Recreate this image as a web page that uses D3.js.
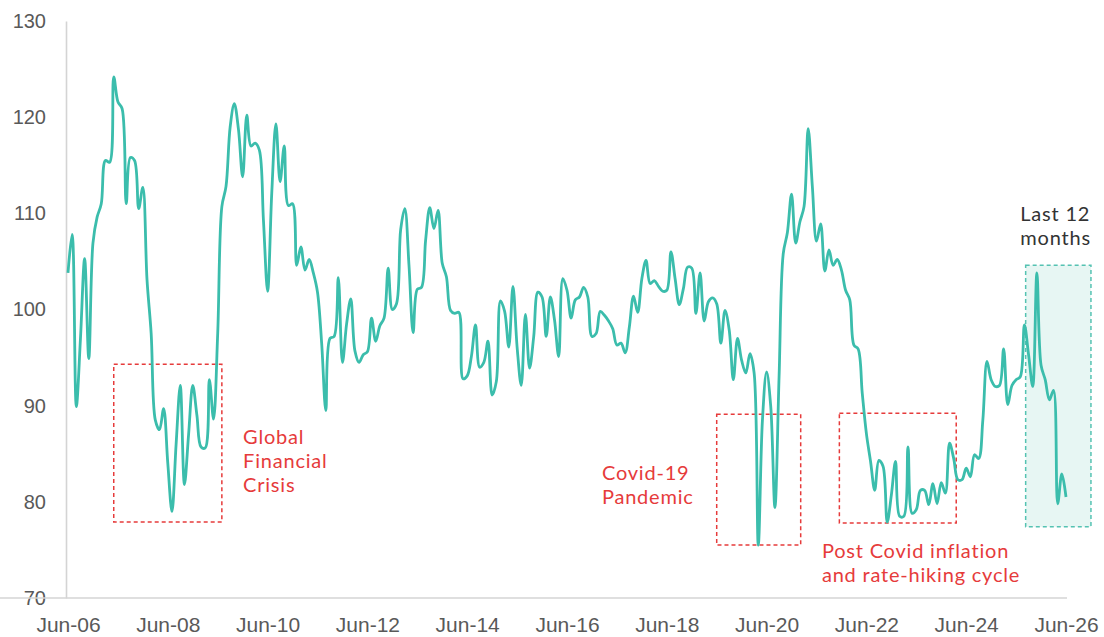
<!DOCTYPE html>
<html>
<head>
<meta charset="utf-8">
<script src="https://cdn.jsdelivr.net/npm/d3@7"></script>
<style>
    body { margin: 0; background: #fff; }
    svg { display: block; font-family: Lato, 'Open Sans', sans-serif; }
    .ix-axis path { stroke: #d4d4d4; stroke-width: 1.6; }
    .ix-axis text { fill: #595959; }
    .ix-note { fill: #e63b3b; font-size: 20px; letter-spacing: 0.8px; }
    .ix-note--dark { fill: #333; }
</style>
</head>
<body>
<svg class="ix-svg"></svg>
<script>

// monthly index values, first point Jun-06
const values = [
    103.8, 107.8, 89.9, 97.0, 105.3, 94.9, 106.9, 109.6, 111.0, 115.5, 115.3, 124.2,
    121.6, 120.9, 111.0, 115.8, 115.5, 110.5, 112.7, 103.1, 97.5, 88.5, 87.5, 89.7,
    84.0, 79.0, 86.0, 92.1, 81.8, 87.0, 92.1, 89.0, 85.7, 85.6, 92.7, 88.6,
    97.5, 110.7, 112.8, 119.0, 121.4, 118.7, 113.8, 120.2, 117.0, 117.3, 116.6, 109.3,
    101.9, 112.1, 119.3, 113.3, 117.0, 110.8, 111.0, 104.6, 106.5, 104.1, 105.2, 103.8,
    101.8, 96.5, 89.5, 97.0, 97.2, 103.3, 94.5, 98.5, 101.1, 95.7, 94.5, 95.3,
    95.6, 99.1, 96.7, 98.3, 99.1, 104.3, 100.0, 100.6, 108.3, 110.5, 104.6, 97.6,
    102.1, 102.3, 107.2, 110.6, 108.4, 110.3, 104.8, 103.4, 99.9, 99.6, 99.7, 92.8,
    93.1, 95.1, 98.4, 94.0, 94.5, 96.7, 91.1, 92.5, 100.9, 99.8, 96.1, 102.4,
    96.1, 92.1, 99.5, 93.9, 97.2, 101.8, 101.3, 97.2, 101.3, 98.9, 95.1, 103.2,
    102.0, 99.1, 101.0, 101.3, 102.3, 101.3, 97.2, 97.5, 99.8, 99.4, 98.8, 98.0,
    96.3, 96.5, 95.5, 98.2, 101.4, 99.7, 103.2, 105.1, 102.7, 103.0, 102.4, 101.9,
    102.0, 106.0, 103.2, 100.5, 102.2, 104.4, 104.3, 99.6, 103.8, 98.8, 100.8, 101.2,
    100.6, 96.5, 99.9, 97.9, 92.7, 97.0, 94.7, 93.4, 95.4, 93.4, 75.5, 88.5,
    93.5, 89.9, 79.4, 93.0, 105.8, 108.0, 112.0, 106.9, 109.1, 110.7, 118.8, 112.8,
    107.1, 108.9, 104.0, 106.2, 104.6, 105.2, 104.1, 102.0, 101.0, 96.3, 95.9, 91.3,
    87.1, 84.2, 81.2, 84.3, 83.7, 77.9, 80.7, 84.2, 78.5, 78.5, 85.7, 78.8,
    79.2, 81.2, 81.2, 79.7, 81.9, 79.8, 82.0, 80.9, 86.1, 84.5, 82.3, 82.3,
    83.5, 82.6, 84.9, 84.5, 88.5, 94.6, 92.7, 92.0, 92.1, 95.9, 90.1, 92.1,
    92.7, 93.0, 98.4, 95.3, 92.0, 103.8, 94.2, 92.7, 90.6, 91.6, 79.8, 82.9,
    80.5
]

const xTicks = d3.range(0, 241, 24)
const xTickLabels = ['Jun-06', 'Jun-08', 'Jun-10', 'Jun-12', 'Jun-14', 'Jun-16', 'Jun-18', 'Jun-20', 'Jun-22', 'Jun-24', 'Jun-26']
const yTicks = [70, 80, 90, 100, 110, 120, 130]

// highlighted periods: [from month, to month, low value, high value]
const eventBoxes = [
    [11, 37, 77.9, 94.3],
    [156, 176.2, 75.5, 89.1],
    [185.5, 213.6, 77.8, 89.2]
]
const lastYearBox = [230.3, 246, 77.4, 104.6]

// notes: month, value of first line, lines
const eventNotes = [
    [42.1, 86.5, ['Global', 'Financial', 'Crisis']],
    [128.4, 82.8, ['Covid-19', 'Pandemic']],
    [181.3, 74.7, ['Post Covid inflation', 'and rate-hiking cycle']]
]
const lastYearNote = [229, 109.7, ['Last 12', 'months']]

const draw = () => {

    const width = 1104
    const height = 637

    const svg = d3.select('.ix-svg')
        .attr('width', width)
        .attr('height', height)

    const xScale = d3.scaleLinear()
        .domain([ 0, 240 ])
        .range([ 68, 1066 ])

    const yScale = d3.scaleLinear()
        .domain([ 70, 130 ])
        .range([ 598, 21 ])

    const lineHeight = 24 / (yScale(70) - yScale(80)) * 10

    const boxRect = (sel, b) => sel
        .attr('x', xScale(b[0]))
        .attr('y', yScale(b[3]))
        .attr('width', xScale(b[1]) - xScale(b[0]))
        .attr('height', yScale(b[2]) - yScale(b[3]))

    svg.append('rect')
        .call(boxRect, lastYearBox)
        .attr('fill', '#e7f6f3')
        .attr('stroke', '#55c2b2')
        .attr('stroke-width', 1.5)
        .attr('stroke-dasharray', '4,3')

    svg.append('g')
        .attr('class', 'ix-axis')
        .attr('transform', `translate(66, 0)`)
        .call(d3.axisLeft(yScale).tickValues(yTicks).tickSize(0).tickPadding(20).tickSizeOuter(0))
        .call(g => g.selectAll('text').attr('font-size', 20))

    svg.append('g')
        .attr('class', 'ix-axis')
        .attr('transform', `translate(0, ${yScale(70)})`)
        .call(d3.axisBottom(xScale).tickValues(xTicks).tickSize(0).tickPadding(19).tickSizeOuter(0)
            .tickFormat((d, i) => xTickLabels[i]))
        .call(g => g.select('.domain').attr('d', `M-2,0H${xScale(240) + 1}`))
        .call(g => g.selectAll('text').attr('font-size', 21))

    svg.selectAll('.ix-box')
        .data(eventBoxes)
        .enter()
        .append('rect')
        .attr('class', 'ix-box')
        .each(function(d) { d3.select(this).call(boxRect, d) })
        .attr('fill', 'none')
        .attr('stroke', '#e63b3b')
        .attr('stroke-width', 1.5)
        .attr('stroke-dasharray', '4,3')

    const line = d3.line()
        .x((d, i) => xScale(i))
        .y(d => yScale(d))
        .curve(d3.curveCatmullRom)

    svg.append('path')
        .datum(values)
        .attr('d', line)
        .attr('fill', 'none')
        .attr('stroke', '#3bbdac')
        .attr('stroke-width', 2.8)
        .attr('stroke-linejoin', 'round')

    const notes = svg.selectAll('.ix-note')
        .data(eventNotes.concat([ lastYearNote ]))
        .enter()
        .append('text')
        .attr('class', (d, i) => i === eventNotes.length ? 'ix-note ix-note--dark' : 'ix-note')
        .attr('dominant-baseline', 'middle')

    notes.selectAll('tspan')
        .data(d => d[2].map((t, i) => ({ t, x: d[0], v: d[1] - i * lineHeight })))
        .enter()
        .append('tspan')
        .attr('x', d => xScale(d.x))
        .attr('y', d => yScale(d.v))
        .text(d => d.t)

}

draw()
</script>
</body>
</html>
